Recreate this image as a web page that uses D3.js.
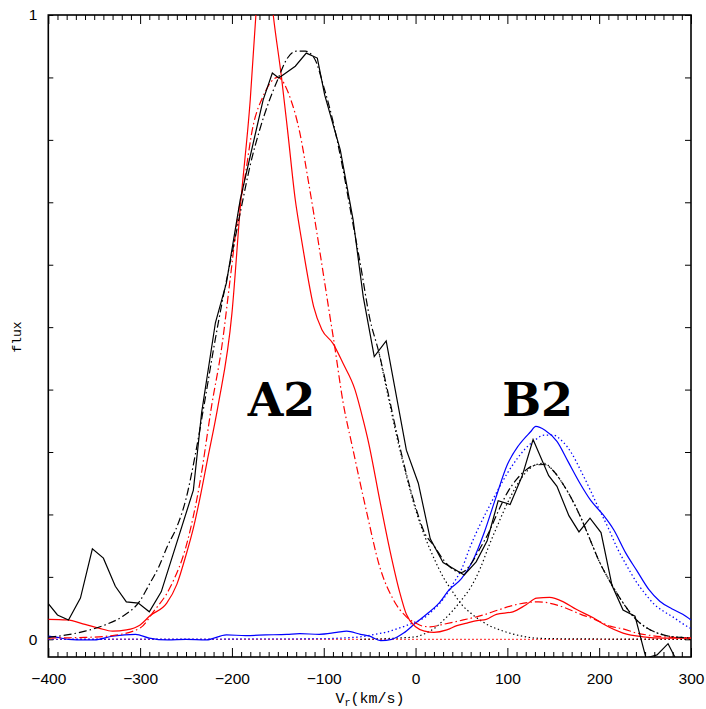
<!DOCTYPE html>
<html><head><meta charset="utf-8">
<script src="https://cdn.jsdelivr.net/npm/d3@7"></script>
<style>body{margin:0;background:#fff}</style>
</head><body>
<svg id="chart" width="706" height="709"></svg>
<script>
// ---------- data (velocity km/s, flux) ----------
const xMajorTicks = [-400,-300,-200,-100,0,100,200,300];
const yTicks = [0,0.1,0.2,0.3,0.4,0.5,0.6,0.7,0.8,0.9,1];
const yLabels = {0:"0",1:"1"};
const componentLabels = [{text:"A2", v:-146, f:0.358},{text:"B2", v:133, f:0.358}];

const blackObs = [[-400,0.057],[-390,0.039],[-378,0.031],[-365,0.066],[-352,0.145],[-340,0.130],[-327,0.085],[-315,0.060],[-302,0.058],[-290,0.044],[-277,0.076],[-242,0.239],[-233,0.363],[-218,0.507],[-206,0.571],[-191,0.704],[-166,0.864],[-156,0.907],[-149,0.899],[-131,0.918],[-119,0.939],[-107,0.931],[-99,0.872],[-82,0.784],[-68,0.672],[-57,0.549],[-45,0.453],[-32,0.478],[-10,0.303],[3,0.25],[16,0.161],[30,0.123],[53,0.103],[66,0.124],[78,0.158],[90,0.222],[103,0.216],[116,0.261],[128,0.32],[145,0.262],[154,0.245],[167,0.198],[178,0.172],[190,0.194],[202,0.171],[214,0.086],[226,0.047],[239,0.037],[251,-0.03],[263,-0.025],[275,-0.007],[283,-0.03]];

const blackFit = [[-400,0.003],[-380,0.007],[-360,0.013],[-340,0.022],[-320,0.036],[-300,0.062],[-290,0.088],[-280,0.115],[-270,0.15],[-260,0.18],[-250,0.225],[-240,0.295],[-230,0.378],[-220,0.465],[-210,0.545],[-200,0.617],[-190,0.69],[-180,0.76],[-170,0.815],[-160,0.86],[-150,0.897],[-140,0.93],[-130,0.942],[-120,0.942],[-110,0.93],[-100,0.885],[-90,0.83],[-80,0.76],[-70,0.68],[-60,0.6],[-50,0.515],[-40,0.46],[-30,0.395],[-20,0.327],[-10,0.265],[0,0.212],[10,0.17],[20,0.15],[30,0.128],[40,0.113],[50,0.107],[60,0.12],[70,0.145],[80,0.172],[90,0.205],[100,0.235],[110,0.256],[120,0.271],[130,0.279],[140,0.28],[150,0.27],[160,0.25],[170,0.225],[180,0.195],[190,0.16],[200,0.125],[210,0.097],[220,0.072],[230,0.05],[240,0.032],[250,0.02],[260,0.012],[270,0.007],[280,0.004],[290,0.003],[300,0.002]];

const blackCompA2 = [[-40,0.46],[-30,0.39],[-20,0.322],[-10,0.262],[0,0.208],[10,0.165],[20,0.13],[30,0.1],[40,0.077],[50,0.056],[60,0.042],[70,0.031],[80,0.022],[90,0.016],[100,0.011],[110,0.007],[120,0.004],[130,0.002],[150,0.001],[200,0.0005],[300,0]];

const blackCompB2 = [[-60,0.0],[-20,0.002],[0,0.004],[10,0.009],[20,0.017],[30,0.03],[40,0.045],[50,0.063],[60,0.083],[70,0.112],[80,0.15],[90,0.185],[100,0.218],[110,0.246],[120,0.267],[130,0.279],[140,0.282],[150,0.27],[160,0.25],[170,0.225],[180,0.195],[190,0.16],[200,0.125],[210,0.097],[220,0.072],[230,0.05],[240,0.032],[250,0.02],[260,0.012],[270,0.007],[280,0.004],[290,0.003],[300,0.002]];

const redObs = [[-400,0.032],[-380,0.031],[-360,0.024],[-345,0.018],[-330,0.013],[-315,0.015],[-300,0.023],[-289,0.038],[-271,0.058],[-260,0.088],[-250,0.135],[-242,0.178],[-235,0.225],[-227,0.285],[-215,0.375],[-200,0.522],[-191,0.69],[-180,0.865],[-173,1.02],[-165,1.15],[-155,1.0],[-146,0.9],[-139,0.81],[-131,0.704],[-126,0.656],[-120,0.603],[-111,0.533],[-102,0.496],[-90,0.474],[-79,0.442],[-66,0.4],[-57,0.351],[-51,0.314],[-39,0.223],[-28,0.143],[-17,0.074],[-10,0.04],[0,0.02],[10,0.013],[20,0.011],[34,0.015],[45,0.022],[56,0.026],[67,0.03],[77,0.032],[88,0.04],[106,0.044],[120,0.055],[132,0.066],[146,0.067],[161,0.06],[175,0.048],[194,0.034],[205,0.024],[226,0.01],[248,0.004],[270,0.002],[300,0.002]];

const redFit = [[-400,0.002],[-360,0.003],[-330,0.006],[-300,0.018],[-285,0.045],[-267,0.084],[-249,0.154],[-235,0.25],[-222,0.375],[-211,0.469],[-202,0.576],[-193,0.683],[-187,0.73],[-177,0.822],[-166,0.87],[-150,0.9],[-136,0.865],[-126,0.811],[-117,0.736],[-108,0.656],[-100,0.581],[-93,0.515],[-89,0.478],[-79,0.38],[-68,0.303],[-53,0.202],[-39,0.116],[-24,0.063],[-10,0.036],[0,0.026],[8,0.021],[16,0.02],[30,0.024],[52,0.031],[74,0.039],[90,0.047],[114,0.057],[134,0.06],[156,0.054],[180,0.04],[195,0.032],[212,0.021],[225,0.017],[241,0.01],[252,0.007],[280,0.003],[300,0.002]];

const redBaseline = [[-400,0],[300,0]];

const blueObs = [[-400,0.005],[-390,0.003],[-378,0.0],[-360,-0.001],[-350,-0.001],[-330,0.005],[-305,0.008],[-290,0.002],[-270,-0.001],[-250,0.0],[-228,-0.001],[-206,0.007],[-185,0.006],[-163,0.007],[-140,0.008],[-126,0.009],[-105,0.008],[-86,0.011],[-75,0.013],[-60,0.008],[-50,0.005],[-38,-0.002],[-26,0.0],[-13,0.01],[0,0.026],[12,0.04],[25,0.057],[37,0.08],[50,0.097],[62,0.125],[75,0.172],[87,0.225],[100,0.28],[112,0.31],[125,0.332],[131,0.341],[141,0.335],[154,0.317],[166,0.285],[179,0.25],[191,0.222],[204,0.2],[216,0.175],[229,0.138],[241,0.11],[254,0.08],[266,0.061],[279,0.049],[291,0.04],[300,0.031]];

const blueFit = [[-400,0.0],[-100,0.001],[-80,0.002],[-60,0.004],[-40,0.009],[-30,0.012],[-20,0.017],[-10,0.022],[0,0.028],[10,0.035],[20,0.048],[30,0.064],[40,0.087],[50,0.112],[60,0.15],[70,0.183],[80,0.212],[90,0.24],[100,0.266],[110,0.288],[120,0.306],[130,0.319],[140,0.327],[150,0.327],[160,0.317],[170,0.298],[180,0.27],[190,0.24],[200,0.208],[210,0.178],[220,0.145],[230,0.118],[240,0.093],[250,0.073],[260,0.056],[270,0.045],[280,0.036],[290,0.026],[300,0.017]];

// ---------- layout ----------
const L = 48.3, R = 691, T = 15, B = 657;
const x = d3.scaleLinear().domain([-400,300]).range([L,R]);
const y = d3.scaleLinear().domain([0,1]).range([639.3,T]);
const svg = d3.select("#chart");

svg.append("defs").append("clipPath").attr("id","clip")
  .append("rect").attr("x",L).attr("y",T).attr("width",R-L).attr("height",B-T);

const minorTicks = d3.range(-400,301,10).filter(v => v % 100 !== 0);

function styleAxis(g){ g.select(".domain").remove(); g.selectAll("line").attr("stroke","#000").attr("stroke-width",1); }

// bottom
svg.append("g").attr("transform",`translate(0,${B})`)
  .call(d3.axisBottom(x).tickValues(xMajorTicks).tickSize(-9).tickPadding(16).tickFormat(d3.format("d")))
  .call(styleAxis)
  .call(g=>g.selectAll("text").attr("font-family","'Liberation Sans',Arial,sans-serif").attr("font-size","15.5px").attr("fill","#000"));
svg.append("g").attr("transform",`translate(0,${B})`)
  .call(d3.axisBottom(x).tickValues(minorTicks).tickSize(-5).tickFormat(""))
  .call(styleAxis);
// top
svg.append("g").attr("transform",`translate(0,${T})`)
  .call(d3.axisTop(x).tickValues(xMajorTicks).tickSize(-9).tickFormat(""))
  .call(styleAxis);
svg.append("g").attr("transform",`translate(0,${T})`)
  .call(d3.axisTop(x).tickValues(minorTicks).tickSize(-5).tickFormat(""))
  .call(styleAxis);
// left
svg.append("g").attr("transform",`translate(${L},0)`)
  .call(d3.axisLeft(y).tickValues(yTicks).tickSize(-5).tickPadding(11).tickFormat(d => yLabels[d] || ""))
  .call(styleAxis)
  .call(g=>g.selectAll("text").attr("font-family","'Liberation Sans',Arial,sans-serif").attr("font-size","15.5px").attr("fill","#000"));
// right
svg.append("g").attr("transform",`translate(${R},0)`)
  .call(d3.axisRight(y).tickValues(yTicks).tickSize(-6).tickFormat(""))
  .call(styleAxis);

// frame
svg.append("rect").attr("x",L).attr("y",T).attr("width",R-L).attr("height",B-T)
  .attr("fill","none").attr("stroke","#000").attr("stroke-width",1.6);

// ---------- lines ----------
const plot = svg.append("g").attr("clip-path","url(#clip)");
const lineLin = d3.line().x(d=>x(d[0])).y(d=>y(d[1]));
const lineSm = d3.line().x(d=>x(d[0])).y(d=>y(d[1])).curve(d3.curveMonotoneX);
const DOT = "1.4,2.6", DASHDOT = "8,3,1.5,3";

function draw(data, gen, color, dash, w){
  plot.append("path").datum(data).attr("d",gen).attr("fill","none")
    .attr("stroke",color).attr("stroke-width",w||1.2)
    .attr("stroke-dasharray",dash||null);
}
draw(redBaseline, lineLin, "#ff0000", DOT, 1.3);
draw(blueFit, lineSm, "#0000ff", DOT, 1.3);
draw(blackCompA2, lineSm, "#000", DOT, 1.2);
draw(blackCompB2, lineSm, "#000", DOT, 1.2);
draw(blueObs, lineSm, "#0000ff", null, 1.2);
draw(redFit, lineSm, "#ff0000", DASHDOT, 1.2);
draw(redObs, lineSm, "#ff0000", null, 1.2);
draw(blackFit, lineSm, "#000", DASHDOT, 1.2);
draw(blackObs, lineLin, "#000", null, 1.2);

// ---------- text ----------
svg.selectAll("text.comp").data(componentLabels).enter().append("text")
  .attr("class","comp").attr("x",d=>x(d.v)).attr("y",d=>y(d.f))
  .attr("text-anchor","middle").attr("font-family","'DejaVu Serif',serif")
  .attr("font-weight","bold").attr("font-size","46px").attr("fill","#000").text(d=>d.text);

const xl = svg.append("text").attr("x",370).attr("y",703).attr("text-anchor","middle")
  .attr("font-family","'Liberation Mono','DejaVu Sans Mono',monospace").attr("font-size","15px").attr("fill","#000");
xl.append("tspan").text("V");
xl.append("tspan").attr("font-size","10px").attr("dy",3).text("r");
xl.append("tspan").attr("dy",-3).text("(km/s)");

svg.append("text").attr("transform","translate(21,337) rotate(-90)").attr("text-anchor","middle")
  .attr("font-family","'Liberation Mono','DejaVu Sans Mono',monospace").attr("font-size","13px").attr("fill","#000").text("flux");
</script>
</body></html>
